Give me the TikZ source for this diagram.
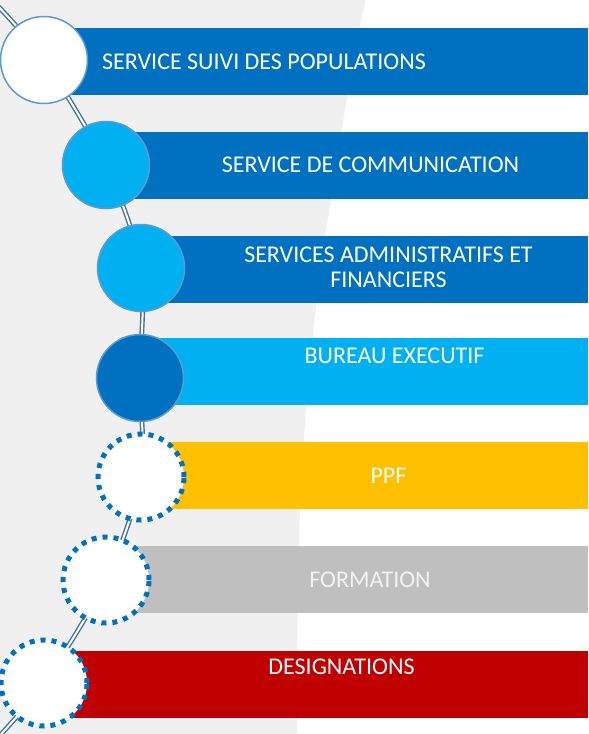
\documentclass[tikz,border=0pt]{standalone}
\usepackage{fontspec}
\setmainfont{Carlito}
\definecolor{dkblue}{HTML}{0070C0}
\definecolor{ltblue}{HTML}{00B0F0}
\definecolor{ppfyellow}{HTML}{FFC000}
\definecolor{formgray}{HTML}{BFBFBF}
\definecolor{desred}{HTML}{C00000}
\definecolor{bggray}{HTML}{F0F0F0}
\definecolor{ringblue}{HTML}{5B9BD5}
\definecolor{connblue}{HTML}{41719C}
\tikzset{
  barbox/.style={rectangle, inner sep=0pt, minimum height=67pt, anchor=west},
  solidcirc/.style={circle, inner sep=0pt, minimum size=87pt, draw=ringblue, line width=1.5pt},
  dotcirc/.style={circle, inner sep=0pt, minimum size=86pt, fill=white, draw=dkblue, line width=5pt, dash pattern=on 5pt off 6pt},
  lbl/.style={text=white, font=\fontsize{24}{25}\selectfont, inner sep=0pt},
  conn/.style={draw=connblue, line width=1.4pt, double=white, double distance=2pt}
}
\begin{document}
\begin{tikzpicture}[x=1pt,y=-1pt]
\useasboundingbox (0,0) rectangle (589,734);
\fill[white] (0,0) rectangle (589,734);
% background gray band
\fill[bggray] (0,0) -- (366,0) .. controls (350,60) and (340,150) .. (326,230)
  .. controls (315,300) and (306,400) .. (301,480)
  .. controls (298,560) and (297,620) .. (297,734) -- (0,734) -- cycle;
% bars
\node[barbox, fill=dkblue, minimum width=544pt] (b1) at (44,61) {};
\node[barbox, fill=dkblue, minimum width=482pt] (b2) at (106,165) {};
\node[barbox, fill=dkblue, minimum width=447pt] (b3) at (141,269) {};
\node[barbox, fill=ltblue, minimum width=448pt] (b4) at (140,371.5) {};
\node[barbox, fill=ppfyellow, minimum width=447pt] (b5) at (141,475) {};
\node[barbox, fill=formgray, minimum width=482pt] (b6) at (106,579.5) {};
\node[barbox, fill=desred, minimum width=544pt] (b7) at (44,684) {};
% connector path
\coordinate (s0) at (-6,2);
\coordinate (p1) at (44,60);
\coordinate (p2) at (106,165);
\coordinate (p3) at (141,268);
\coordinate (p4) at (140,378);
\coordinate (p5) at (141,477);
\coordinate (p6) at (106,580);
\coordinate (p7) at (44,683);
\coordinate (s8) at (-8,744);
\draw[conn] plot[smooth, tension=0.5] coordinates {(s0) (p1) (p2) (p3) (p4) (p5) (p6) (p7) (s8)};
% circles
\node[solidcirc, fill=white] (c1) at (p1) {};
\node[solidcirc, fill=ltblue] (c2) at (p2) {};
\node[solidcirc, fill=ltblue] (c3) at (p3) {};
\node[solidcirc, fill=dkblue] (c4) at (p4) {};
\node[dotcirc] (c5) at (p5) {};
\node[dotcirc] (c6) at (p6) {};
\node[dotcirc] (c7) at (p7) {};
% labels
\node[lbl, anchor=base] (t1) at (264,69) {SERVICE SUIVI DES POPULATIONS};
\node[lbl, anchor=base] (t2) at (370.5,172) {SERVICE DE COMMUNICATION};
\node[lbl, align=center] (t3) at (388.5,267.5) {SERVICES ADMINISTRATIFS ET\\FINANCIERS};
\node[lbl, anchor=base] (t4) at (394.5,363) {BUREAU EXECUTIF};
\node[lbl, anchor=base] (t5) at (388.5,483) {PPF};
\node[lbl, anchor=base, text=white!95!black] (t6) at (370,587) {FORMATION};
\node[lbl, anchor=base] (t7) at (341.5,674) {DESIGNATIONS};
\end{tikzpicture}
\end{document}
